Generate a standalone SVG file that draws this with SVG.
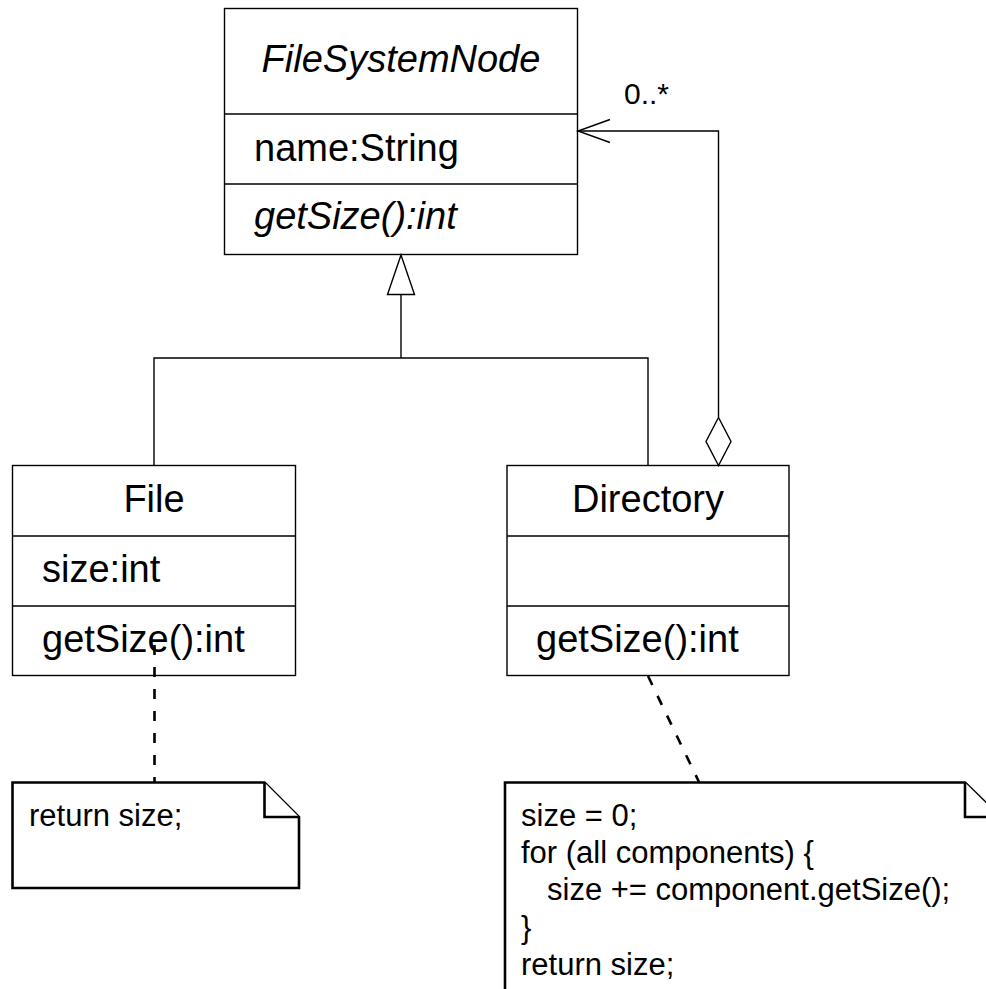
<svg xmlns="http://www.w3.org/2000/svg" width="986" height="989" viewBox="0 0 986 989">
<style>
  text { font-family: "Liberation Sans", Arial, sans-serif; fill: #000; }
  .cls { font-size: 38px; }
  .it { font-style: italic; }
  .note-t { font-size: 31px; }
  .lbl { font-size: 30px; }
  .box { fill: #fff; stroke: #000; stroke-width: 1.4; }
  .div { stroke: #000; stroke-width: 1.4; }
  .edge { fill: none; stroke: #000; stroke-width: 1.4; }
  .note { fill: #fff; stroke: #000; stroke-width: 2.6; stroke-linejoin: miter; }
  .dash { fill: none; stroke: #000; stroke-width: 2.6; stroke-dasharray: 10 12; }
</style>
<rect width="986" height="989" fill="#fff"/>

<g id="FileSystemNode">
  <rect class="box" x="224.5" y="8.5" width="353" height="246"/>
  <line class="div" x1="224.5" y1="114" x2="577.5" y2="114"/>
  <line class="div" x1="224.5" y1="184" x2="577.5" y2="184"/>
  <text class="cls it" x="401" y="72" text-anchor="middle">FileSystemNode</text>
  <text class="cls" x="254" y="161">name:String</text>
  <text class="cls it" x="254" y="229">getSize():int</text>
</g>

<g id="File">
  <rect class="box" x="12.5" y="465.5" width="283" height="210"/>
  <line class="div" x1="12.5" y1="536" x2="295.5" y2="536"/>
  <line class="div" x1="12.5" y1="606" x2="295.5" y2="606"/>
  <text class="cls" x="154" y="512" text-anchor="middle">File</text>
  <text class="cls" x="42" y="582">size:int</text>
  <text class="cls" x="42" y="652">getSize():int</text>
</g>

<g id="Directory">
  <rect class="box" x="507" y="465.5" width="282" height="210"/>
  <line class="div" x1="507" y1="536" x2="789" y2="536"/>
  <line class="div" x1="507" y1="606" x2="789" y2="606"/>
  <text class="cls" x="648" y="512" text-anchor="middle">Directory</text>
  <text class="cls" x="536" y="652">getSize():int</text>
</g>

<g id="FileNote">
  <path class="note" d="M12.5,782.5 H264.5 L299,817 V888 H12.5 Z"/>
  <path class="note" d="M264.5,782.5 V817 H299" fill="none"/>
  <text class="note-t" x="29" y="826">return size;</text>
</g>

<g id="DirectoryNote">
  <path class="note" d="M505,995 V782.5 H965 L1000,817 V995"/>
  <path class="note" d="M965,782.5 V817 H1000" fill="none"/>
  <text class="note-t" x="521" y="826">size = 0;</text>
  <text class="note-t" x="521" y="863">for (all components) {</text>
  <text class="note-t" x="547" y="900">size += component.getSize();</text>
  <text class="note-t" x="521" y="938">}</text>
  <text class="note-t" x="521" y="975">return size;</text>
</g>

<g id="connectors">
  <!-- generalization -->
  <polyline class="edge" points="154,465 154,358 648,358 648,465"/>
  <line class="edge" x1="401" y1="358" x2="401" y2="294.5"/>
  <polygon class="edge" points="401,255 387.5,294.5 414.5,294.5" style="fill:#fff"/>
  <!-- aggregation / association -->
  <polyline class="edge" points="718.5,417.5 718.5,131 578,131"/>
  <polyline class="edge" points="610,119.5 578,131 610,142.5"/>
  <polygon class="edge" points="718.5,417.5 706,441.5 718.5,465.5 731,441.5" style="fill:#fff"/>
  <text class="lbl" x="624" y="104">0..*</text>
  <!-- note anchors -->
  <line class="dash" x1="154.5" y1="645" x2="154.5" y2="782"/>
  <line class="dash" x1="648" y1="676" x2="699" y2="782"/>
</g>
</svg>
